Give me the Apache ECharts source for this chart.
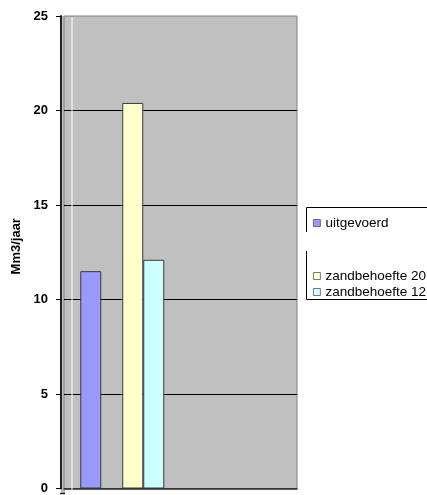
<!DOCTYPE html>
<html>
<head>
<meta charset="utf-8">
<style>
  html, body { margin: 0; padding: 0; background: #fff; }
  #chart { width: 427px; height: 495px; }
</style>
<script src="https://cdn.jsdelivr.net/npm/echarts@6/dist/echarts.min.js"></script>
</head>
<body>
<div id="chart"></div>
<script>
// Sand volumes (Mm3 per year)
const categories = ['', ''];
const uitgevoerd = [11.5, null];
const spacer = [null, null];
const zandbehoefte20 = [20.4, null];
const zandbehoefte12 = [12.1, null];
const yTicks = { min: 0, max: 25, step: 5 };

const FONT = '"Liberation Sans", Arial, sans-serif';
const chart = echarts.init(document.getElementById('chart'), null, { renderer: 'canvas' });

const barBorder = { borderColor: '#3a3a3a', borderWidth: 1 };
const legendText = { fontFamily: FONT, fontSize: 13.5, color: '#000' };
const legendIcon = { borderColor: '#555', borderWidth: 0.8 };

chart.setOption({
  animation: false,
  textStyle: { fontFamily: FONT },
  grid: {
    left: 64, top: 16, width: 233, bottom: 1.5,
    show: true, backgroundColor: '#C0C0C0', borderColor: '#808080', borderWidth: 1
  },
  legend: [
    {
      data: ['uitgevoerd'],
      left: 308, top: 211,
      orient: 'vertical',
      icon: 'rect', itemWidth: 7, itemHeight: 7,
      itemStyle: legendIcon,
      textStyle: legendText
    },
    {
      data: ['zandbehoefte 20', 'zandbehoefte 12'],
      left: 308, top: 264,
      orient: 'vertical', itemGap: 2,
      icon: 'rect', itemWidth: 7, itemHeight: 7,
      itemStyle: legendIcon,
      textStyle: legendText
    }
  ],
  xAxis: {
    type: 'category',
    data: categories,
    axisLine: { show: true, lineStyle: { color: '#222', width: 1.5 } },
    axisTick: { show: false },
    axisLabel: { show: false },
    splitLine: { show: false }
  },
  yAxis: {
    type: 'value',
    min: yTicks.min, max: yTicks.max, interval: yTicks.step,
    offset: 3,
    name: 'Mm3/jaar',
    nameLocation: 'middle',
    nameGap: 37,
    nameTextStyle: { fontFamily: FONT, fontSize: 13, fontWeight: 'bold', color: '#000', padding: [0, 0, 0, 12] },
    axisLine: { show: true, lineStyle: { color: '#222', width: 2 } },
    axisTick: { show: true, length: 5, lineStyle: { color: '#000' } },
    axisLabel: { margin: 13, fontFamily: FONT, fontSize: 13, fontWeight: 'bold', color: '#000' },
    splitLine: { show: true, showMinLine: false, showMaxLine: false, lineStyle: { color: '#000', width: 1 } }
  },
  graphic: [
    // strip of plot fill between the axis line and the grid edge
    { type: 'rect', shape: { x: 61, y: 16, width: 4, height: 477.5 }, style: { fill: '#C0C0C0' }, z: -1, silent: true },
    { type: 'line', shape: { x1: 60, y1: 493.5, x2: 65, y2: 493.5 }, style: { stroke: '#222', lineWidth: 1.5 }, silent: true },
    { type: 'rect', shape: { x: 71.5, y: 17, width: 1, height: 476 }, style: { fill: '#ffffff' }, z: 1, silent: true },
    // legend frame
    { type: 'polyline', shape: { points: [[306.5, 232], [306.5, 207.5], [430, 207.5]] }, style: { stroke: '#000', lineWidth: 1, fill: null }, silent: true },
    { type: 'polyline', shape: { points: [[306.5, 251], [306.5, 299.5], [430, 299.5]] }, style: { stroke: '#000', lineWidth: 1, fill: null }, silent: true }
  ],
  series: [
    { name: 'uitgevoerd', type: 'bar', data: uitgevoerd, barWidth: 21, barGap: '0%', itemStyle: Object.assign({ color: '#9999FF' }, barBorder) },
    { type: 'bar', data: spacer, barWidth: 21, barGap: '0%' },
    { name: 'zandbehoefte 20', type: 'bar', data: zandbehoefte20, barWidth: 21, barGap: '0%', itemStyle: Object.assign({ color: '#FFFFCC' }, barBorder) },
    { name: 'zandbehoefte 12', type: 'bar', data: zandbehoefte12, barWidth: 21, barGap: '0%', itemStyle: Object.assign({ color: '#CCFFFF' }, barBorder) }
  ]
});
</script>
</body>
</html>
